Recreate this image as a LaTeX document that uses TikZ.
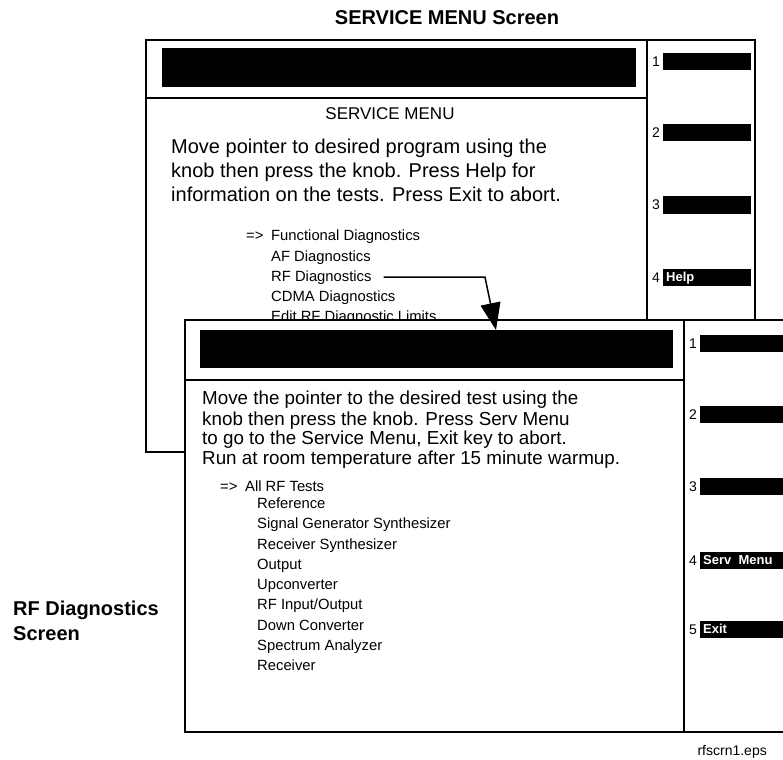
\documentclass[tikz,border=0pt]{standalone}
\usepackage{fontspec}
\setmainfont{Liberation Sans}
\usetikzlibrary{arrows.meta}
\newcommand\fsz[1]{\fontsize{#1}{#1}\selectfont}
\begin{document}
\begin{tikzpicture}[x=1pt,y=-1pt,
  txt/.style={anchor=base west,inner sep=0pt,font=\fsz{#1}},
  ctxt/.style={anchor=base,inner sep=0pt,font=\fsz{#1}},
  btxt/.style={anchor=base west,inner sep=0pt,font=\bfseries\fsz{#1}},
  frame/.style={line width=1.5pt},
  rule/.style={line width=1.2pt},
  bar/.style={fill=black},
  keylbl/.style={anchor=base west,inner sep=0pt,text=white,font=\bfseries\fsz{13}},
  keynum/.style={anchor=base west,inner sep=0pt,font=\fsz{14}},
  pointer/.style={line width=1.5pt,-{Triangle[length=27pt,width=20pt]}}]
\useasboundingbox (0,0) rectangle (783,759);

% titles
\node[anchor=base,inner sep=0pt,font=\bfseries\fsz{20}] (title) at (447,25) {SERVICE MENU Screen};
\node[btxt=20] (lbla) at (13,615) {RF Diagnostics};
\node[btxt=20] (lblb) at (13,640) {Screen};
\node[anchor=base east,inner sep=0pt,font=\fsz{14}] (fname) at (767,755) {rfscrn1.eps};

% ---------------- back screen ----------------
\draw[frame] (146,40) rectangle (755,452);
\draw[frame] (647,40) -- (647,452);
\draw[rule] (146,98) -- (647,98);
\fill[bar] (162,48) rectangle (636,87);

\node[ctxt=17] (smhead) at (390,120) {SERVICE MENU};
\node[txt=20] (bp1) at (171,154) {Move pointer to desired program using the};
\node[txt=20] (bp2) at (171,178) {knob then press the knob. Press Help for};
\node[txt=20] (bp3) at (171,201.5) {information on the tests. Press Exit to abort.};

\node[txt=14.8] (bptr) at (246,240) {=>};
\node[txt=14.8] (bm1) at (271,240) {Functional Diagnostics};
\node[txt=14.8] (bm2) at (271,261) {AF Diagnostics};
\node[txt=14.8] (bm3) at (271,281) {RF Diagnostics};
\node[txt=14.8] (bm4) at (271,301) {CDMA Diagnostics};
\node[txt=14.8] (bm5) at (271,321) {Edit RF Diagnostic Limits};

\foreach \c/\n in {62/1,133/2,205/3,277/4}{
  \fill[bar] (663,\c-8.5) rectangle (751,\c+8.5);
  \node[keynum] (bk\n) at (652,\c+5) {\n};
}
\node[keylbl] (bhelp) at (666,281.5) {Help};

% ---------------- front screen ----------------
\fill[white] (185,320) rectangle (783,732);
\draw[frame] (783,320) -- (185,320) -- (185,732);
\draw[line width=2pt] (184.25,732) -- (783,732);
\draw[frame] (684,320) -- (684,732);
\draw[rule] (185,380) -- (684,380);
\fill[bar] (200,330) rectangle (673,368);

\node[txt=18.8] (fp1) at (202,404.6) {Move the pointer to the desired test using the};
\node[txt=18.8] (fp2) at (202,425.1) {knob then press the knob. Press Serv Menu};
\node[txt=18.8] (fp3) at (202,444.6) {to go to the Service Menu, Exit key to abort.};
\node[txt=18.8] (fp4) at (202,464.6) {Run at room temperature after 15 minute warmup.};

\node[txt=14.8] (fptr) at (220,491.2) {=>};
\node[txt=14.8] (fm0) at (245,491.2) {All RF Tests};
\foreach \y/\t [count=\i] in {503/Reference,523/Signal Generator Synthesizer,544/Receiver Synthesizer,564/Output,584/Upconverter,604/RF Input\slash Output,625/Down Converter,645/Spectrum Analyzer,665/Receiver}{
  \node[txt=14.8] (fm\i) at (257,\y+5.2) {\t};
}

\foreach \c/\n in {343/1,414/2,486/3,560/4,629/5}{
  \fill[bar] (700,\c-8.5) rectangle (783,\c+8.5);
  \node[keynum] (fk\n) at (689,\c+5) {\n};
}
\node[keylbl] (fserv) at (703,564.5) {Serv\ \ Menu};
\node[keylbl] (fexit) at (703,633.5) {Exit};

% pointer arrow
\coordinate (start) at ([xshift=12pt]bm3.east);
\coordinate (bend) at (485,277);
\coordinate (tip) at (496,330);
\draw[pointer] (start) -- (start -| bend) -- (tip);
\end{tikzpicture}
\end{document}
